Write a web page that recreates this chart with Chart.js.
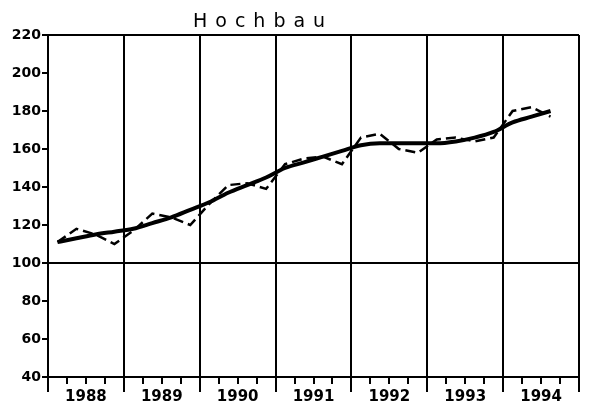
<!DOCTYPE html>
<html>
<head>
<meta charset="utf-8">
<script src="https://cdn.jsdelivr.net/npm/chart.js@4"></script>
<style>
  body { margin: 0; background: #fff; }
  #wrap { position: relative; width: 590px; height: 407px; }
  #title { position: absolute; left: 193px; top: 9px; font: 19px "DejaVu Sans", sans-serif; letter-spacing: 8px; color: #000; }
</style>
</head>
<body>
<div id="wrap">
  <div id="title">Hochbau</div>
  <canvas id="chart" width="590" height="407"></canvas>
</div>
<script>
// quarterly index values, 1988 Q1 .. 1994 Q3
var years = ["1988", "1989", "1990", "1991", "1992", "1993", "1994"];
var actual = [
    111, 118, 115, 110,
    117, 126, 124, 120,
    131, 141, 142, 139,
    152, 155, 156, 152,
    166, 168, 160, 158,
    165, 166, 164, 166,
    180, 182, 177
];
var trend = [
    111, 113, 115, 116.5,
    118, 121, 124, 128,
    132, 137, 141, 145,
    150, 153, 156, 159,
    162, 163, 163, 163,
    163, 164, 166, 169,
    174, 177, 180
];
var yTicks = [40, 60, 80, 100, 120, 140, 160, 180, 200, 220];
var yLines = [40, 100, 220];

// place each quarter at its middle within the year
function toPoints(vals) {
    return vals.map(function (v, i) { return { x: i / 4 + 0.125, y: v }; });
}

var ctx = document.getElementById('chart').getContext('2d');
var chart = new Chart(ctx, {
    type: 'line',
    data: {
        datasets: [{
            label: 'Trend',
            data: toPoints(trend),
            borderColor: '#000',
            borderWidth: 4,
            cubicInterpolationMode: 'monotone',
            pointRadius: 0,
            fill: false
        }, {
            label: 'Ursprungswerte',
            data: toPoints(actual),
            borderColor: '#000',
            borderWidth: 2.5,
            borderDash: [10, 5],
            tension: 0,
            pointRadius: 0,
            fill: false
        }]
    },
    options: {
        responsive: false,
        animation: false,
        layout: { padding: { top: 35, right: 11, left: 0, bottom: 0 } },
        plugins: {
            legend: { display: false },
            tooltip: { enabled: false },
            title: { display: false }
        },
        scales: {
            x: {
                type: 'linear',
                min: 0,
                max: years.length,
                afterBuildTicks: function (scale) {
                    var t = [];
                    for (var q = 0; q <= years.length * 4; q++) t.push({ value: q / 4 });
                    scale.ticks = t;
                },
                afterFit: function (scale) { scale.height = 30; },
                ticks: {
                    autoSkip: false,
                    maxRotation: 0,
                    padding: -4,
                    color: '#000',
                    font: { family: "DejaVu Sans", size: 15, weight: "bold" },
                    callback: function (value) {
                        return value % 1 === 0.5 ? years[Math.floor(value)] : '';
                    }
                },
                grid: {
                    color: function (c) {
                        return c.tick && Number.isInteger(c.tick.value) ? '#000' : 'rgba(0,0,0,0)';
                    },
                    lineWidth: 2,
                    tickColor: '#000',
                    tickLength: 15,
                    tickWidth: 2,
                    tickBorderDash: function (c) {
                        return c.tick && Number.isInteger(c.tick.value) ? [] : [6, 40];
                    }
                },
                border: { display: true, color: '#000', width: 2 }
            },
            y: {
                min: 40,
                max: 220,
                afterBuildTicks: function (scale) {
                    scale.ticks = yTicks.map(function (v) { return { value: v }; });
                },
                afterFit: function (scale) { scale.width = 48; },
                ticks: {
                    padding: 1,
                    color: '#000',
                    font: { family: "DejaVu Sans", size: 14, weight: "bold" }
                },
                grid: {
                    color: function (c) {
                        return c.tick && yLines.indexOf(c.tick.value) >= 0 ? '#000' : 'rgba(0,0,0,0)';
                    },
                    lineWidth: 2,
                    tickColor: '#000',
                    tickLength: 6,
                    tickWidth: 2
                },
                border: { display: true, color: '#000', width: 2 }
            }
        }
    }
});
</script>
</body>
</html>
